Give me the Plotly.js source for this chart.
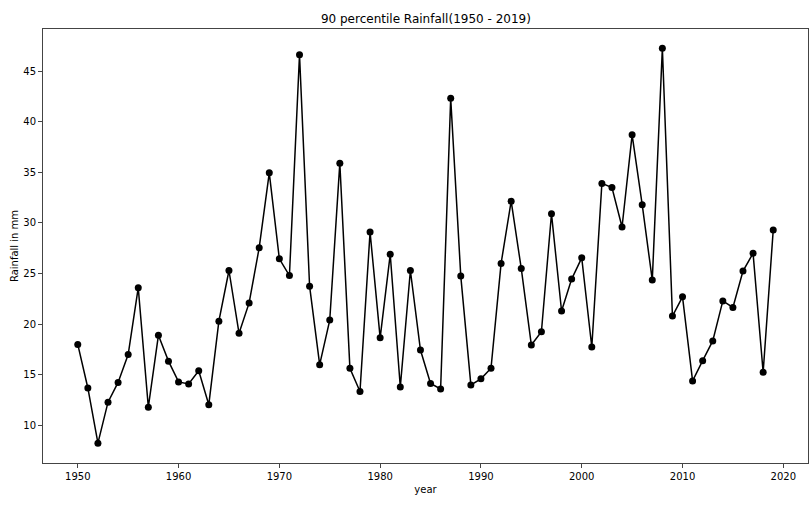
<!DOCTYPE html>
<html>
<head>
<meta charset="utf-8">
<script src="https://cdn.plot.ly/plotly-3.0.1.min.js"></script>
<style>html,body{margin:0;padding:0;background:#fff;}#chart{width:812px;height:507px;}</style>
</head>
<body>
<div id="chart"></div>
<script>
const years = [];
for (let y = 1950; y <= 2019; y++) years.push(y);
const rainfall = [
  18.0, 13.7, 8.25, 12.3, 14.25, 17.0, 23.6, 11.8, 18.9, 16.35,
  14.3, 14.1, 15.4, 12.05, 20.3, 25.3, 19.1, 22.1, 27.55, 34.95,
  26.45, 24.8, 46.6, 23.75, 16.0, 20.4, 35.9, 15.65, 13.35, 29.1,
  18.65, 26.9, 13.8, 25.3, 17.45, 14.15, 13.6, 42.3, 24.75, 14.0,
  14.6, 15.65, 26.0, 32.15, 25.5, 17.95, 19.25, 30.9, 21.3, 24.45,
  26.55, 17.75, 33.9, 33.5, 29.6, 38.7, 31.8, 24.35, 47.25, 20.8,
  22.7, 14.4, 16.4, 18.35, 22.3, 21.65, 25.25, 27.0, 15.25, 29.3
];
const xTicks = [1950, 1960, 1970, 1980, 1990, 2000, 2010, 2020];
const yTicks = [10, 15, 20, 25, 30, 35, 40, 45];

const trace = {
  x: years, y: rainfall, type: 'scatter', mode: 'lines+markers',
  line: {color: '#000000', width: 1.5},
  marker: {color: '#000000', size: 7, symbol: 'circle'},
  hoverinfo: 'x+y'
};
const axisCommon = {
  showline: true, mirror: true, linecolor: '#444444', linewidth: 1,
  showgrid: false, zeroline: false, ticks: 'outside', ticklen: 4,
  tickcolor: '#444444', tickwidth: 1,
  tickfont: {family: 'DejaVu Sans', size: 10, color: '#000000'}
};
const layout = {
  width: 812, height: 507,
  margin: {l: 43, r: 4, t: 29, b: 44},
  paper_bgcolor: '#ffffff', plot_bgcolor: '#ffffff',
  showlegend: false,
  title: {text: '90 percentile Rainfall(1950 - 2019)', font: {family: 'DejaVu Sans', size: 12, color: '#000000'},
          x: 0.5245, xanchor: 'center', y: 0.963, yanchor: 'middle'},
  xaxis: Object.assign({}, axisCommon, {
    range: [1946.55, 2022.45], tickvals: xTicks, ticktext: xTicks.map(String),
    title: {text: 'year', font: {family: 'DejaVu Sans', size: 10, color: '#000000'}, standoff: 4}
  }),
  yaxis: Object.assign({}, axisCommon, {
    range: [6.29, 49.15], tickvals: yTicks, ticktext: yTicks.map(String),
    title: {text: 'Rainfall in mm', font: {family: 'DejaVu Sans', size: 10, color: '#000000'}, standoff: 2}
  })
};
Plotly.newPlot('chart', [trace], layout, {displayModeBar: false, staticPlot: true});
</script>
</body>
</html>
